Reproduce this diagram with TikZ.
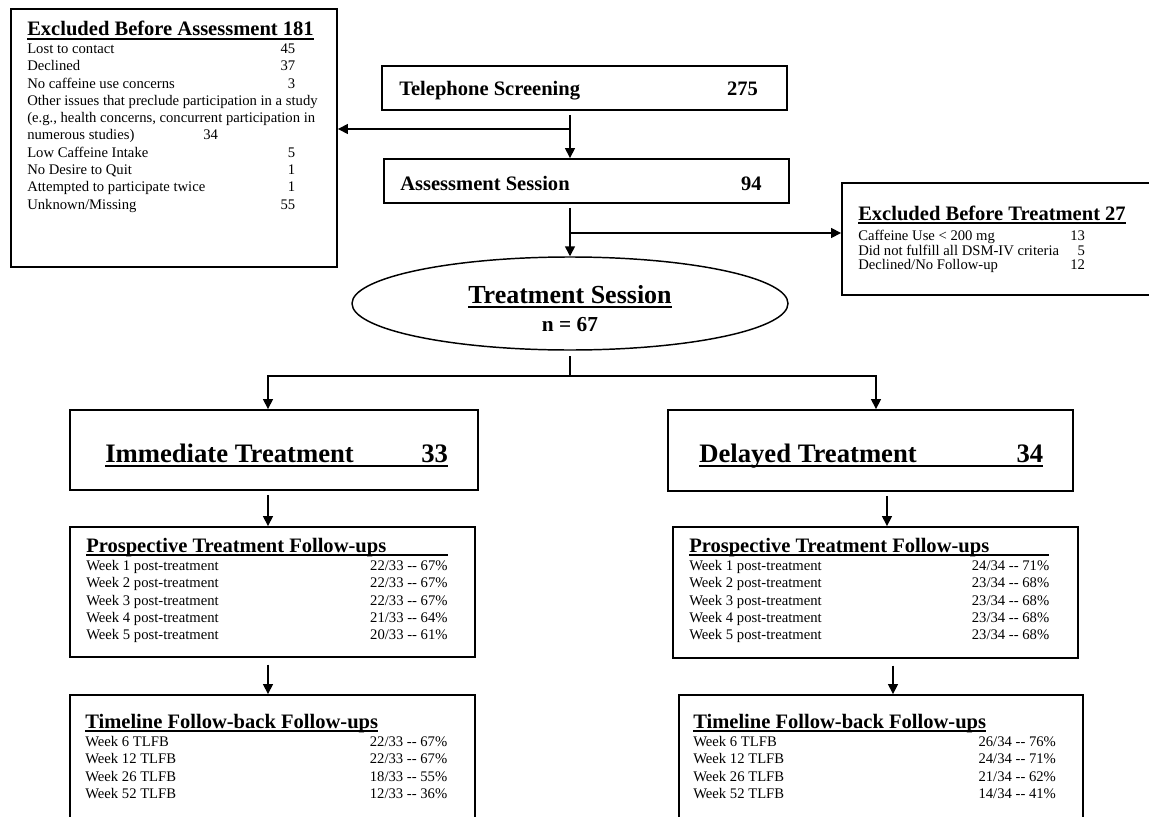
\documentclass[tikz,border=0pt]{standalone}
\usepackage{fontspec}
\setmainfont{Liberation Serif}
\usetikzlibrary{shapes.geometric,arrows.meta,positioning,fit,calc}

% text helpers
\newcommand{\ulbox}[1]{\setbox0\hbox{#1}\rlap{\rule[-0.19em]{\wd0}{0.075em}}\box0}
\newcommand{\pairrow}[3]{\makebox[#1][l]{#2\hfill #3}}
\newcommand{\ttlfont}{\fontsize{15.4}{18}\selectfont\bfseries}
\newcommand{\rowfont}{\fontsize{11}{12.95}\selectfont}
\newcommand{\smrowfont}{\fontsize{11}{10.5}\selectfont}
\newcommand{\bigfont}{\fontsize{20}{24}\selectfont\bfseries}

\begin{document}
\begin{tikzpicture}[
    x=0.75pt, y=-0.75pt,
    box/.style={draw, line width=1.4pt, inner sep=0pt},
    oval/.style={draw, ellipse, line width=1.1pt, inner sep=0pt,
        minimum width=327pt, minimum height=69.75pt},
    txt/.style={inner sep=0pt, anchor=base west},
    rows/.style={inner sep=0pt, anchor=north west},
    arrow/.style={-{Triangle[length=7.5pt,width=7.5pt]}, line width=1.1pt},
    link/.style={line width=1.1pt}
]
\useasboundingbox (0,0) rectangle (1149,817);
\clip (0,0) rectangle (1149,817);

% Excluded before assessment
\node[box, fit={(11,9) (337,267)}] (exclA) {};
\node[txt, font=\ttlfont] (exclAttl) at (27,36) {\ulbox{Excluded Before Assessment 181}};
\node[rows, font=\rowfont] (exclAlist) at (27,41.3) {\begin{tabular}{@{}l@{}}
\pairrow{201pt}{Lost to contact}{45}\\
\pairrow{201pt}{Declined}{37}\\
\pairrow{201pt}{No caffeine use concerns}{3}\\
Other issues that preclude participation in a study\\
(e.g., health concerns, concurrent participation in\\
\pairrow{143pt}{numerous studies)}{34}\\
\pairrow{201pt}{Low Caffeine Intake}{5}\\
\pairrow{201pt}{No Desire to Quit}{1}\\
\pairrow{201pt}{Attempted to participate twice}{1}\\
\pairrow{201pt}{Unknown/Missing}{55}
\end{tabular}};

% Screening and assessment
\node[box, fit={(382,66) (787,110)}] (tel) {};
\node[txt, font=\ttlfont] (telTxt) at (399,95) {\pairrow{269pt}{Telephone Screening}{275}};
\node[box, fit={(384,159) (789,203)}] (assess) {};
\node[txt, font=\ttlfont] (assessTxt) at (400,190) {\pairrow{271pt}{Assessment Session}{94}};

% Excluded before treatment
\node[box, fit={(842,183) (1165,295)}] (exclT) {};
\node[txt, font=\ttlfont] (exclTttl) at (858,220) {\ulbox{Excluded Before Treatment 27}};
\node[rows, font=\smrowfont] (exclTlist) at (858,230) {\begin{tabular}{@{}l@{}}
\pairrow{170pt}{Caffeine Use < 200 mg}{13}\\
\pairrow{170pt}{Did not fulfill all DSM-IV criteria}{5}\\
\pairrow{170pt}{Declined/No Follow-up}{12}
\end{tabular}};

% Treatment session
\node[oval] (treat) at (570,303.5) {};
\node[txt, anchor=base, font=\fontsize{19.5}{22}\selectfont\bfseries] (treatTtl) at (570,303) {\ulbox{Treatment Session}};
\node[txt, anchor=base, font=\fontsize{16}{19}\selectfont\bfseries] (treatN) at (570,331) {n = 67};

% Two arms
\node[box, fit={(70,410) (478,490)}] (imm) {};
\node[txt, font=\bigfont] (immTxt) at (105,462) {\ulbox{\pairrow{257pt}{Immediate Treatment}{33}}};
\node[box, fit={(668,410) (1073,491)}] (del) {};
\node[txt, font=\bigfont] (delTxt) at (699,462) {\ulbox{\pairrow{258pt}{Delayed Treatment}{34}}};

% Prospective follow-ups
\node[box, fit={(70,527) (475,657)}] (prospL) {};
\node[txt, font=\ttlfont] (prospLttl) at (86,552) {\ulbox{\pairrow{271pt}{Prospective Treatment Follow-ups}{}}};
\node[rows, font=\rowfont] (prospLlist) at (86,558.3) {\begin{tabular}{@{}l@{}}
\pairrow{271pt}{Week 1 post-treatment}{22/33 -{}- 67\%}\\
\pairrow{271pt}{Week 2 post-treatment}{22/33 -{}- 67\%}\\
\pairrow{271pt}{Week 3 post-treatment}{22/33 -{}- 67\%}\\
\pairrow{271pt}{Week 4 post-treatment}{21/33 -{}- 64\%}\\
\pairrow{271pt}{Week 5 post-treatment}{20/33 -{}- 61\%}
\end{tabular}};
\node[box, fit={(673,527) (1078,658)}] (prospR) {};
\node[txt, font=\ttlfont] (prospRttl) at (689,552) {\ulbox{\pairrow{270pt}{Prospective Treatment Follow-ups}{}}};
\node[rows, font=\rowfont] (prospRlist) at (689,558.3) {\begin{tabular}{@{}l@{}}
\pairrow{270pt}{Week 1 post-treatment}{24/34 -{}- 71\%}\\
\pairrow{270pt}{Week 2 post-treatment}{23/34 -{}- 68\%}\\
\pairrow{270pt}{Week 3 post-treatment}{23/34 -{}- 68\%}\\
\pairrow{270pt}{Week 4 post-treatment}{23/34 -{}- 68\%}\\
\pairrow{270pt}{Week 5 post-treatment}{23/34 -{}- 68\%}
\end{tabular}};

% Timeline follow-back follow-ups
\node[box, fit={(70,695) (475,845)}] (timeL) {};
\node[txt, font=\ttlfont] (timeLttl) at (85,728) {\ulbox{Timeline Follow-back Follow-ups}};
\node[rows, font=\rowfont] (timeLlist) at (85,734.3) {\begin{tabular}{@{}l@{}}
\pairrow{271.5pt}{Week 6 TLFB}{22/33 -{}- 67\%}\\
\pairrow{271.5pt}{Week 12 TLFB}{22/33 -{}- 67\%}\\
\pairrow{271.5pt}{Week 26 TLFB}{18/33 -{}- 55\%}\\
\pairrow{271.5pt}{Week 52 TLFB}{12/33 -{}- 36\%}
\end{tabular}};
\node[box, fit={(679,695) (1083,845)}] (timeR) {};
\node[txt, font=\ttlfont] (timeRttl) at (693,728) {\ulbox{Timeline Follow-back Follow-ups}};
\node[rows, font=\rowfont] (timeRlist) at (693,734.3) {\begin{tabular}{@{}l@{}}
\pairrow{272pt}{Week 6 TLFB}{26/34 -{}- 76\%}\\
\pairrow{272pt}{Week 12 TLFB}{24/34 -{}- 71\%}\\
\pairrow{272pt}{Week 26 TLFB}{21/34 -{}- 62\%}\\
\pairrow{272pt}{Week 52 TLFB}{14/34 -{}- 41\%}
\end{tabular}};

% Branch points and columns
\coordinate (b1) at (570,129);
\coordinate (b2) at (570,233);
\coordinate (b3) at (570,376);
\coordinate (colL) at (268,0);
\coordinate (colR) at (876,0);
\coordinate (colR2) at (887,0);
\coordinate (colR3) at (893,0);

% Arrows - top
\draw[arrow, shorten <=3pt] (b1 |- tel.south) -- (b1 |- assess.north);
\draw[arrow] (b1) -- (b1 -| exclA.east);
\draw[arrow, shorten <=3pt] (b2 |- assess.south) -- (treat.north);
\draw[arrow] (b2) -- (b2 -| exclT.west);

% Arrows - split into arms
\draw[link, shorten <=4pt] (treat.south) -- (b3);
\draw[arrow] (b3) -| (colL |- imm.north);
\draw[arrow] (b3) -| (colR |- del.north);

% Arrows - follow-ups
\draw[arrow, shorten <=3pt] (colL |- imm.south) -- (colL |- prospL.north);
\draw[arrow, shorten <=5pt] (colL |- prospL.south) -- (colL |- timeL.north);
\draw[arrow, shorten <=3pt] (colR2 |- del.south) -- (colR2 |- prospR.north);
\draw[arrow, shorten <=5pt] (colR3 |- prospR.south) -- (colR3 |- timeR.north);

\end{tikzpicture}
\end{document}
